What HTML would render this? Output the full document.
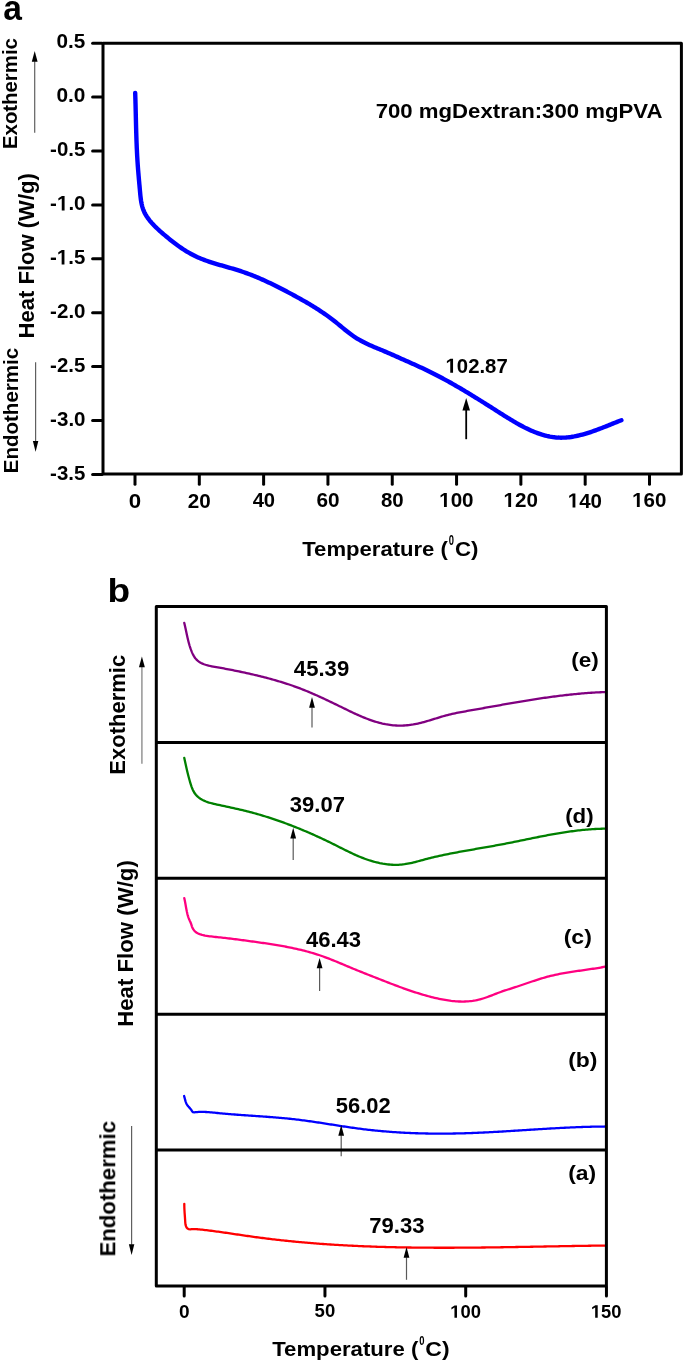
<!DOCTYPE html>
<html><head><meta charset="utf-8"><title>DSC thermograms</title>
<style>
html,body{margin:0;padding:0;background:#fff;}
body{width:685px;height:1363px;overflow:hidden;font-family:"Liberation Sans", sans-serif;}
svg{display:block;}
svg text{font-family:"Liberation Sans", sans-serif;fill:#000;}
.txt{filter:grayscale(1);}
.one{fill:transparent;}
.onep{fill:#000;}
</style></head><body>
<svg width="685" height="1363" viewBox="0 0 685 1363">
<rect width="685" height="1363" fill="#fff"/>
<line x1="92.60" y1="43.20" x2="102.00" y2="43.20" stroke="#000" stroke-width="3.00" stroke-linecap="round"/>
<line x1="92.60" y1="97.10" x2="102.00" y2="97.10" stroke="#000" stroke-width="3.00" stroke-linecap="round"/>
<line x1="92.60" y1="151.00" x2="102.00" y2="151.00" stroke="#000" stroke-width="3.00" stroke-linecap="round"/>
<line x1="92.60" y1="204.90" x2="102.00" y2="204.90" stroke="#000" stroke-width="3.00" stroke-linecap="round"/>
<line x1="92.60" y1="258.80" x2="102.00" y2="258.80" stroke="#000" stroke-width="3.00" stroke-linecap="round"/>
<line x1="92.60" y1="312.70" x2="102.00" y2="312.70" stroke="#000" stroke-width="3.00" stroke-linecap="round"/>
<line x1="92.60" y1="366.60" x2="102.00" y2="366.60" stroke="#000" stroke-width="3.00" stroke-linecap="round"/>
<line x1="92.60" y1="420.50" x2="102.00" y2="420.50" stroke="#000" stroke-width="3.00" stroke-linecap="round"/>
<line x1="92.60" y1="474.40" x2="102.00" y2="474.40" stroke="#000" stroke-width="3.00" stroke-linecap="round"/>
<line x1="135.00" y1="475.10" x2="135.00" y2="484.20" stroke="#000" stroke-width="3.00" stroke-linecap="round"/>
<line x1="199.31" y1="475.10" x2="199.31" y2="484.20" stroke="#000" stroke-width="3.00" stroke-linecap="round"/>
<line x1="263.62" y1="475.10" x2="263.62" y2="484.20" stroke="#000" stroke-width="3.00" stroke-linecap="round"/>
<line x1="327.94" y1="475.10" x2="327.94" y2="484.20" stroke="#000" stroke-width="3.00" stroke-linecap="round"/>
<line x1="392.25" y1="475.10" x2="392.25" y2="484.20" stroke="#000" stroke-width="3.00" stroke-linecap="round"/>
<line x1="456.56" y1="475.10" x2="456.56" y2="484.20" stroke="#000" stroke-width="3.00" stroke-linecap="round"/>
<line x1="520.87" y1="475.10" x2="520.87" y2="484.20" stroke="#000" stroke-width="3.00" stroke-linecap="round"/>
<line x1="585.18" y1="475.10" x2="585.18" y2="484.20" stroke="#000" stroke-width="3.00" stroke-linecap="round"/>
<line x1="649.50" y1="475.10" x2="649.50" y2="484.20" stroke="#000" stroke-width="3.00" stroke-linecap="round"/>
<rect x="103.00" y="43.20" width="578.40" height="430.90" fill="none" stroke="#000" stroke-width="3" stroke-linejoin="round"/>
<path d="M135.19,92.92 L135.25,94.57 L135.30,96.22 L135.35,97.87 L135.40,99.52 L135.45,101.18 L135.49,102.84 L135.54,104.50 L135.58,106.15 L135.62,107.82 L135.66,109.48 L135.70,111.14 L135.74,112.80 L135.78,114.47 L135.82,116.13 L135.86,117.80 L135.90,119.46 L135.94,121.13 L135.98,122.80 L136.02,124.46 L136.06,126.13 L136.10,127.80 L136.15,129.47 L136.19,131.13 L136.24,132.80 L136.29,134.47 L136.34,136.13 L136.40,137.80 L136.45,139.47 L136.51,141.13 L136.57,142.80 L136.64,144.46 L136.70,146.13 L136.77,147.79 L136.85,149.45 L136.93,151.11 L137.01,152.77 L137.09,154.43 L137.18,156.09 L137.28,157.74 L137.38,159.40 L137.48,161.05 L137.59,162.70 L137.70,164.36 L137.82,166.00 L137.94,167.65 L138.07,169.30 L138.20,170.95 L138.34,172.59 L138.48,174.24 L138.62,175.89 L138.76,177.54 L138.91,179.19 L139.06,180.84 L139.20,182.50 L139.35,184.16 L139.51,185.82 L139.66,187.48 L139.81,189.15 L139.96,190.83 L140.11,192.51 L140.26,194.19 L140.43,195.87 L140.62,197.55 L140.83,199.22 L141.07,200.88 L141.35,202.52 L141.68,204.15 L142.06,205.76 L142.50,207.35 L143.00,208.91 L143.57,210.44 L144.22,211.93 L144.95,213.40 L145.74,214.83 L146.60,216.24 L147.51,217.61 L148.48,218.96 L149.49,220.27 L150.54,221.56 L151.63,222.82 L152.75,224.06 L153.89,225.27 L155.05,226.46 L156.24,227.63 L157.45,228.78 L158.68,229.92 L159.92,231.04 L161.17,232.14 L162.43,233.24 L163.71,234.33 L164.98,235.42 L166.27,236.49 L167.56,237.56 L168.85,238.63 L170.15,239.68 L171.46,240.72 L172.78,241.76 L174.10,242.78 L175.43,243.78 L176.77,244.78 L178.11,245.76 L179.47,246.72 L180.83,247.67 L182.21,248.60 L183.59,249.51 L184.99,250.40 L186.39,251.28 L187.81,252.13 L189.23,252.96 L190.67,253.76 L192.12,254.54 L193.59,255.30 L195.06,256.03 L196.55,256.73 L198.05,257.41 L199.57,258.06 L201.09,258.70 L202.63,259.31 L204.17,259.90 L205.72,260.47 L207.29,261.02 L208.86,261.56 L210.43,262.09 L212.02,262.60 L213.60,263.10 L215.20,263.59 L216.80,264.07 L218.40,264.55 L220.01,265.02 L221.61,265.48 L223.22,265.94 L224.83,266.40 L226.44,266.86 L228.06,267.32 L229.67,267.78 L231.27,268.24 L232.88,268.71 L234.48,269.19 L236.08,269.68 L237.68,270.17 L239.27,270.68 L240.85,271.19 L242.43,271.72 L244.01,272.26 L245.58,272.82 L247.14,273.38 L248.70,273.96 L250.25,274.55 L251.80,275.15 L253.34,275.76 L254.88,276.38 L256.41,277.01 L257.94,277.65 L259.46,278.30 L260.98,278.95 L262.50,279.62 L264.01,280.30 L265.52,280.98 L267.02,281.68 L268.53,282.38 L270.02,283.08 L271.52,283.80 L273.01,284.52 L274.50,285.25 L275.98,285.99 L277.47,286.73 L278.95,287.48 L280.43,288.23 L281.90,288.99 L283.37,289.75 L284.85,290.52 L286.32,291.29 L287.78,292.07 L289.25,292.85 L290.71,293.63 L292.18,294.42 L293.64,295.21 L295.10,296.01 L296.56,296.81 L298.01,297.61 L299.47,298.42 L300.92,299.23 L302.37,300.05 L303.81,300.87 L305.25,301.70 L306.69,302.53 L308.13,303.38 L309.56,304.22 L310.98,305.08 L312.41,305.94 L313.82,306.81 L315.23,307.69 L316.64,308.58 L318.04,309.47 L319.43,310.38 L320.82,311.29 L322.21,312.21 L323.58,313.15 L324.95,314.09 L326.31,315.04 L327.67,316.01 L329.01,316.98 L330.35,317.97 L331.68,318.97 L333.01,319.98 L334.32,321.00 L335.63,322.04 L336.92,323.09 L338.22,324.14 L339.50,325.20 L340.79,326.27 L342.07,327.33 L343.36,328.40 L344.65,329.45 L345.94,330.50 L347.24,331.54 L348.54,332.57 L349.86,333.58 L351.19,334.57 L352.54,335.54 L353.89,336.48 L355.27,337.40 L356.67,338.28 L358.08,339.14 L359.51,339.97 L360.96,340.78 L362.42,341.56 L363.90,342.31 L365.39,343.05 L366.89,343.77 L368.39,344.47 L369.91,345.16 L371.43,345.84 L372.96,346.50 L374.49,347.15 L376.02,347.80 L377.56,348.44 L379.09,349.08 L380.63,349.71 L382.16,350.34 L383.68,350.98 L385.20,351.62 L386.72,352.26 L388.22,352.91 L389.73,353.56 L391.23,354.22 L392.73,354.88 L394.22,355.54 L395.72,356.20 L397.22,356.87 L398.72,357.54 L400.23,358.22 L401.73,358.89 L403.25,359.57 L404.77,360.24 L406.30,360.92 L407.83,361.60 L409.36,362.28 L410.90,362.97 L412.43,363.66 L413.97,364.35 L415.51,365.04 L417.05,365.74 L418.58,366.44 L420.11,367.14 L421.64,367.85 L423.17,368.57 L424.69,369.29 L426.20,370.01 L427.71,370.74 L429.21,371.47 L430.70,372.21 L432.19,372.95 L433.68,373.70 L435.15,374.45 L436.63,375.21 L438.09,375.97 L439.56,376.74 L441.02,377.51 L442.47,378.29 L443.92,379.07 L445.37,379.85 L446.81,380.64 L448.24,381.44 L449.68,382.24 L451.11,383.04 L452.54,383.84 L453.96,384.65 L455.38,385.47 L456.80,386.29 L458.22,387.11 L459.64,387.94 L461.05,388.76 L462.46,389.60 L463.87,390.44 L465.28,391.28 L466.68,392.12 L468.09,392.97 L469.49,393.82 L470.89,394.67 L472.30,395.53 L473.70,396.39 L475.10,397.26 L476.50,398.13 L477.91,399.00 L479.31,399.87 L480.71,400.75 L482.12,401.63 L483.52,402.51 L484.93,403.39 L486.34,404.28 L487.74,405.17 L489.15,406.07 L490.57,406.96 L491.98,407.86 L493.40,408.76 L494.82,409.67 L496.24,410.57 L497.66,411.48 L499.09,412.39 L500.52,413.30 L501.95,414.21 L503.39,415.12 L504.83,416.03 L506.27,416.93 L507.72,417.83 L509.17,418.72 L510.62,419.61 L512.08,420.49 L513.54,421.35 L515.00,422.21 L516.47,423.06 L517.94,423.89 L519.42,424.71 L520.90,425.52 L522.38,426.31 L523.87,427.08 L525.37,427.84 L526.86,428.57 L528.37,429.29 L529.87,429.98 L531.39,430.66 L532.90,431.31 L534.42,431.93 L535.95,432.53 L537.48,433.10 L539.02,433.64 L540.56,434.15 L542.10,434.64 L543.66,435.09 L545.21,435.51 L546.78,435.90 L548.35,436.25 L549.92,436.57 L551.50,436.84 L553.09,437.09 L554.68,437.29 L556.28,437.45 L557.88,437.57 L559.49,437.65 L561.11,437.68 L562.73,437.67 L564.36,437.62 L565.99,437.52 L567.63,437.38 L569.27,437.20 L570.92,436.99 L572.57,436.73 L574.22,436.45 L575.87,436.13 L577.53,435.77 L579.18,435.39 L580.83,434.98 L582.48,434.55 L584.13,434.09 L585.78,433.61 L587.43,433.11 L589.07,432.59 L590.70,432.05 L592.33,431.49 L593.96,430.92 L595.57,430.34 L597.18,429.75 L598.79,429.15 L600.38,428.54 L601.97,427.93 L603.54,427.31 L605.10,426.69 L606.66,426.08 L608.20,425.46 L609.73,424.84 L611.24,424.23 L612.74,423.63 L614.23,423.04 L615.70,422.45 L617.15,421.88 L618.59,421.32 L620.01,420.77 L621.41,420.24" fill="none" stroke="#0000ff" stroke-width="4.4" stroke-linecap="round" stroke-linejoin="round"/>
<line x1="466.20" y1="410.00" x2="466.20" y2="439.20" stroke="#000" stroke-width="1.80" stroke-linecap="butt"/>
<path d="M466.20,398.00 L462.40,410.50 L470.00,410.50 Z" fill="#000"/>
<line x1="34.70" y1="61.30" x2="34.70" y2="132.80" stroke="#606060" stroke-width="1.20" stroke-linecap="butt"/>
<path d="M34.70,51.00 L31.80,61.80 L37.60,61.80 Z" fill="#000"/>
<line x1="35.60" y1="362.30" x2="35.60" y2="441.50" stroke="#606060" stroke-width="1.20" stroke-linecap="butt"/>
<path d="M35.60,451.80 L32.90,441.00 L38.30,441.00 Z" fill="#000"/>
<path d="M184.28,622.91 L184.64,624.42 L184.99,625.93 L185.32,627.44 L185.65,628.95 L185.97,630.46 L186.29,631.97 L186.61,633.49 L186.93,635.00 L187.26,636.51 L187.60,638.01 L187.95,639.52 L188.31,641.02 L188.70,642.52 L189.11,644.02 L189.54,645.51 L190.01,646.99 L190.50,648.47 L191.03,649.95 L191.60,651.42 L192.21,652.87 L192.88,654.29 L193.61,655.66 L194.41,656.97 L195.29,658.22 L196.26,659.37 L197.33,660.43 L198.50,661.38 L199.76,662.22 L201.10,662.97 L202.50,663.64 L203.97,664.23 L205.47,664.74 L207.00,665.20 L208.54,665.61 L210.09,665.97 L211.64,666.29 L213.19,666.59 L214.73,666.87 L216.27,667.14 L217.81,667.40 L219.34,667.67 L220.87,667.94 L222.39,668.21 L223.91,668.49 L225.42,668.77 L226.93,669.05 L228.44,669.34 L229.95,669.63 L231.45,669.92 L232.95,670.22 L234.45,670.52 L235.95,670.82 L237.44,671.13 L238.94,671.44 L240.44,671.75 L241.93,672.07 L243.43,672.39 L244.93,672.72 L246.43,673.05 L247.93,673.38 L249.43,673.71 L250.94,674.06 L252.44,674.40 L253.94,674.75 L255.45,675.10 L256.95,675.46 L258.46,675.83 L259.96,676.19 L261.47,676.57 L262.97,676.95 L264.48,677.33 L265.98,677.72 L267.49,678.11 L268.99,678.51 L270.49,678.92 L271.99,679.33 L273.49,679.75 L274.98,680.17 L276.48,680.60 L277.97,681.04 L279.46,681.48 L280.95,681.93 L282.43,682.39 L283.92,682.85 L285.40,683.32 L286.88,683.80 L288.35,684.28 L289.83,684.78 L291.30,685.28 L292.76,685.78 L294.22,686.30 L295.68,686.82 L297.14,687.35 L298.59,687.89 L300.03,688.44 L301.47,689.00 L302.91,689.56 L304.35,690.13 L305.78,690.71 L307.21,691.30 L308.63,691.89 L310.05,692.49 L311.47,693.09 L312.89,693.71 L314.30,694.32 L315.71,694.95 L317.12,695.57 L318.52,696.21 L319.93,696.85 L321.33,697.49 L322.73,698.14 L324.13,698.79 L325.53,699.44 L326.93,700.10 L328.32,700.77 L329.72,701.43 L331.11,702.10 L332.51,702.77 L333.90,703.45 L335.30,704.12 L336.69,704.80 L338.09,705.48 L339.48,706.16 L340.88,706.84 L342.27,707.52 L343.67,708.20 L345.07,708.89 L346.47,709.57 L347.87,710.25 L349.27,710.93 L350.68,711.60 L352.09,712.27 L353.49,712.93 L354.91,713.58 L356.32,714.23 L357.74,714.87 L359.16,715.50 L360.58,716.12 L362.01,716.73 L363.44,717.33 L364.87,717.91 L366.31,718.48 L367.75,719.03 L369.19,719.57 L370.64,720.09 L372.10,720.59 L373.56,721.08 L375.02,721.54 L376.49,721.99 L377.97,722.41 L379.45,722.81 L380.93,723.19 L382.43,723.55 L383.92,723.87 L385.43,724.18 L386.94,724.45 L388.46,724.70 L389.98,724.92 L391.52,725.11 L393.05,725.27 L394.60,725.40 L396.15,725.49 L397.72,725.55 L399.28,725.58 L400.85,725.58 L402.42,725.55 L403.99,725.48 L405.56,725.39 L407.13,725.26 L408.69,725.11 L410.25,724.92 L411.80,724.70 L413.34,724.46 L414.88,724.18 L416.40,723.88 L417.92,723.56 L419.43,723.21 L420.93,722.84 L422.43,722.46 L423.92,722.05 L425.41,721.64 L426.89,721.21 L428.37,720.77 L429.84,720.32 L431.32,719.87 L432.79,719.41 L434.26,718.95 L435.73,718.49 L437.20,718.03 L438.68,717.57 L440.15,717.12 L441.62,716.68 L443.10,716.24 L444.58,715.82 L446.07,715.42 L447.56,715.03 L449.06,714.65 L450.56,714.29 L452.06,713.94 L453.57,713.61 L455.08,713.29 L456.59,712.98 L458.11,712.67 L459.63,712.38 L461.15,712.09 L462.67,711.81 L464.19,711.53 L465.72,711.26 L467.25,710.99 L468.77,710.72 L470.30,710.45 L471.83,710.18 L473.35,709.91 L474.88,709.64 L476.40,709.37 L477.93,709.10 L479.46,708.82 L480.98,708.55 L482.51,708.28 L484.03,708.00 L485.56,707.73 L487.09,707.46 L488.61,707.18 L490.14,706.91 L491.66,706.64 L493.19,706.37 L494.71,706.09 L496.24,705.82 L497.77,705.55 L499.29,705.28 L500.82,705.01 L502.34,704.74 L503.87,704.47 L505.40,704.20 L506.92,703.93 L508.45,703.67 L509.97,703.40 L511.50,703.14 L513.03,702.88 L514.55,702.62 L516.08,702.35 L517.61,702.10 L519.13,701.84 L520.66,701.58 L522.19,701.33 L523.72,701.08 L525.24,700.83 L526.77,700.58 L528.30,700.33 L529.83,700.09 L531.36,699.84 L532.89,699.60 L534.41,699.36 L535.94,699.13 L537.47,698.89 L539.00,698.66 L540.53,698.43 L542.06,698.21 L543.60,697.98 L545.13,697.76 L546.66,697.54 L548.19,697.33 L549.72,697.12 L551.26,696.91 L552.79,696.70 L554.32,696.50 L555.86,696.30 L557.39,696.10 L558.93,695.91 L560.46,695.72 L562.00,695.53 L563.53,695.35 L565.07,695.17 L566.61,695.00 L568.14,694.82 L569.68,694.66 L571.22,694.49 L572.76,694.33 L574.30,694.18 L575.84,694.03 L577.38,693.88 L578.92,693.74 L580.46,693.60 L582.00,693.46 L583.55,693.33 L585.09,693.21 L586.63,693.09 L588.18,692.97 L589.72,692.86 L591.27,692.76 L592.82,692.65 L594.36,692.56 L595.91,692.47 L597.46,692.38 L599.01,692.30 L600.56,692.23 L602.11,692.16 L603.66,692.09 L605.21,692.03" fill="none" stroke="#800080" stroke-width="2.3" stroke-linecap="round" stroke-linejoin="round"/>
<path d="M184.29,757.90 L184.61,759.43 L184.94,760.95 L185.26,762.48 L185.59,764.00 L185.92,765.51 L186.25,767.03 L186.59,768.54 L186.93,770.05 L187.28,771.55 L187.64,773.06 L188.02,774.56 L188.40,776.07 L188.80,777.57 L189.21,779.07 L189.63,780.56 L190.08,782.06 L190.54,783.56 L191.02,785.05 L191.52,786.55 L192.07,788.02 L192.66,789.48 L193.33,790.89 L194.08,792.25 L194.92,793.54 L195.86,794.76 L196.89,795.89 L197.99,796.94 L199.18,797.89 L200.43,798.76 L201.75,799.55 L203.12,800.27 L204.54,800.92 L206.01,801.51 L207.51,802.05 L209.04,802.54 L210.60,802.99 L212.18,803.41 L213.76,803.80 L215.35,804.17 L216.94,804.52 L218.53,804.87 L220.10,805.21 L221.66,805.55 L223.21,805.89 L224.75,806.22 L226.28,806.55 L227.81,806.88 L229.32,807.21 L230.83,807.54 L232.34,807.87 L233.83,808.20 L235.32,808.53 L236.81,808.87 L238.29,809.20 L239.77,809.54 L241.25,809.89 L242.72,810.24 L244.20,810.59 L245.67,810.95 L247.14,811.32 L248.61,811.69 L250.08,812.07 L251.55,812.46 L253.02,812.86 L254.49,813.26 L255.96,813.67 L257.44,814.09 L258.91,814.51 L260.38,814.94 L261.85,815.38 L263.32,815.82 L264.79,816.27 L266.26,816.73 L267.73,817.19 L269.20,817.66 L270.67,818.14 L272.14,818.62 L273.61,819.11 L275.07,819.60 L276.54,820.10 L278.01,820.61 L279.47,821.12 L280.93,821.64 L282.40,822.17 L283.86,822.70 L285.32,823.23 L286.78,823.77 L288.24,824.32 L289.70,824.87 L291.15,825.43 L292.61,826.00 L294.06,826.56 L295.51,827.14 L296.96,827.72 L298.41,828.30 L299.86,828.89 L301.30,829.49 L302.74,830.09 L304.19,830.69 L305.63,831.30 L307.06,831.91 L308.50,832.53 L309.93,833.16 L311.36,833.78 L312.79,834.42 L314.22,835.05 L315.64,835.69 L317.07,836.34 L318.49,836.99 L319.90,837.64 L321.32,838.30 L322.73,838.96 L324.14,839.63 L325.55,840.30 L326.95,840.97 L328.36,841.65 L329.75,842.33 L331.15,843.01 L332.54,843.70 L333.93,844.40 L335.32,845.09 L336.71,845.79 L338.09,846.48 L339.47,847.18 L340.85,847.88 L342.24,848.57 L343.62,849.26 L345.00,849.95 L346.39,850.63 L347.77,851.31 L349.16,851.98 L350.55,852.65 L351.94,853.30 L353.34,853.95 L354.74,854.59 L356.15,855.22 L357.56,855.83 L358.98,856.44 L360.40,857.03 L361.83,857.60 L363.26,858.16 L364.71,858.71 L366.16,859.24 L367.62,859.75 L369.09,860.24 L370.56,860.71 L372.05,861.16 L373.55,861.59 L375.06,862.00 L376.58,862.38 L378.10,862.74 L379.64,863.08 L381.19,863.38 L382.74,863.67 L384.30,863.92 L385.86,864.14 L387.43,864.34 L388.99,864.50 L390.56,864.63 L392.13,864.73 L393.70,864.80 L395.27,864.83 L396.83,864.82 L398.39,864.78 L399.94,864.69 L401.49,864.57 L403.03,864.41 L404.56,864.22 L406.09,863.98 L407.61,863.72 L409.12,863.43 L410.63,863.11 L412.13,862.77 L413.64,862.41 L415.14,862.04 L416.63,861.65 L418.13,861.26 L419.62,860.85 L421.12,860.45 L422.61,860.04 L424.11,859.63 L425.61,859.23 L427.10,858.84 L428.61,858.46 L430.11,858.08 L431.61,857.71 L433.12,857.35 L434.63,856.99 L436.14,856.64 L437.65,856.29 L439.16,855.95 L440.68,855.62 L442.19,855.29 L443.71,854.97 L445.23,854.65 L446.75,854.34 L448.27,854.03 L449.79,853.73 L451.31,853.42 L452.84,853.13 L454.36,852.84 L455.89,852.55 L457.41,852.26 L458.94,851.98 L460.47,851.70 L462.00,851.42 L463.53,851.14 L465.06,850.87 L466.59,850.60 L468.12,850.33 L469.65,850.06 L471.19,849.79 L472.72,849.52 L474.25,849.26 L475.78,848.99 L477.32,848.73 L478.85,848.46 L480.38,848.20 L481.92,847.93 L483.45,847.67 L484.98,847.40 L486.52,847.13 L488.05,846.86 L489.58,846.59 L491.11,846.32 L492.65,846.05 L494.18,845.77 L495.71,845.49 L497.24,845.21 L498.77,844.93 L500.30,844.64 L501.83,844.35 L503.35,844.06 L504.88,843.76 L506.41,843.47 L507.93,843.17 L509.46,842.87 L510.98,842.56 L512.51,842.26 L514.03,841.95 L515.56,841.64 L517.08,841.33 L518.60,841.02 L520.13,840.71 L521.65,840.40 L523.17,840.09 L524.69,839.78 L526.22,839.46 L527.74,839.15 L529.26,838.84 L530.78,838.53 L532.31,838.22 L533.83,837.92 L535.35,837.61 L536.87,837.31 L538.40,837.00 L539.92,836.70 L541.45,836.41 L542.97,836.11 L544.49,835.82 L546.02,835.53 L547.54,835.24 L549.07,834.96 L550.60,834.68 L552.12,834.40 L553.65,834.13 L555.18,833.86 L556.71,833.60 L558.24,833.34 L559.77,833.08 L561.30,832.83 L562.83,832.59 L564.36,832.35 L565.89,832.11 L567.43,831.89 L568.96,831.66 L570.50,831.45 L572.04,831.24 L573.58,831.04 L575.12,830.84 L576.66,830.65 L578.20,830.47 L579.74,830.30 L581.29,830.13 L582.83,829.97 L584.38,829.82 L585.93,829.68 L587.48,829.54 L589.03,829.42 L590.58,829.30 L592.14,829.19 L593.69,829.10 L595.25,829.01 L596.81,828.93 L598.37,828.86 L599.94,828.80 L601.50,828.75 L603.07,828.71 L604.64,828.69" fill="none" stroke="#008000" stroke-width="2.3" stroke-linecap="round" stroke-linejoin="round"/>
<path d="M184.30,898.20 L184.63,899.67 L184.94,901.17 L185.22,902.68 L185.49,904.20 L185.75,905.73 L186.01,907.26 L186.29,908.80 L186.58,910.33 L186.89,911.85 L187.24,913.36 L187.63,914.86 L188.06,916.34 L188.56,917.80 L189.11,919.23 L189.73,920.64 L190.38,922.03 L190.97,923.44 L191.45,924.90 L191.89,926.37 L192.43,927.81 L193.17,929.18 L194.09,930.45 L195.17,931.57 L196.37,932.51 L197.67,933.30 L199.06,933.94 L200.52,934.47 L202.02,934.90 L203.55,935.25 L205.10,935.56 L206.64,935.83 L208.18,936.07 L209.71,936.28 L211.24,936.48 L212.77,936.66 L214.30,936.83 L215.82,936.99 L217.35,937.14 L218.87,937.30 L220.39,937.45 L221.92,937.61 L223.44,937.78 L224.96,937.95 L226.49,938.13 L228.01,938.31 L229.53,938.49 L231.06,938.67 L232.58,938.86 L234.11,939.06 L235.63,939.25 L237.16,939.45 L238.69,939.65 L240.21,939.85 L241.74,940.05 L243.27,940.25 L244.80,940.46 L246.33,940.67 L247.86,940.87 L249.39,941.08 L250.92,941.29 L252.45,941.50 L253.98,941.71 L255.51,941.92 L257.05,942.13 L258.58,942.34 L260.11,942.56 L261.65,942.78 L263.18,943.00 L264.71,943.22 L266.24,943.45 L267.77,943.67 L269.30,943.91 L270.83,944.14 L272.36,944.38 L273.89,944.62 L275.42,944.87 L276.95,945.12 L278.47,945.38 L280.00,945.64 L281.52,945.91 L283.04,946.18 L284.56,946.46 L286.08,946.75 L287.60,947.04 L289.11,947.34 L290.63,947.64 L292.14,947.95 L293.65,948.27 L295.15,948.60 L296.66,948.93 L298.16,949.27 L299.66,949.62 L301.16,949.98 L302.66,950.35 L304.15,950.72 L305.64,951.11 L307.12,951.50 L308.61,951.91 L310.09,952.32 L311.57,952.74 L313.04,953.18 L314.51,953.62 L315.98,954.08 L317.44,954.55 L318.90,955.02 L320.36,955.51 L321.81,956.02 L323.26,956.53 L324.71,957.05 L326.15,957.59 L327.59,958.13 L329.03,958.68 L330.46,959.24 L331.89,959.81 L333.32,960.38 L334.75,960.96 L336.18,961.55 L337.60,962.14 L339.03,962.73 L340.45,963.33 L341.87,963.93 L343.29,964.53 L344.71,965.13 L346.14,965.73 L347.56,966.33 L348.98,966.93 L350.40,967.52 L351.83,968.12 L353.25,968.71 L354.68,969.29 L356.11,969.88 L357.54,970.46 L358.97,971.03 L360.40,971.61 L361.83,972.18 L363.26,972.75 L364.70,973.32 L366.13,973.89 L367.56,974.45 L369.00,975.02 L370.43,975.58 L371.87,976.15 L373.30,976.71 L374.73,977.28 L376.17,977.84 L377.60,978.41 L379.03,978.97 L380.46,979.54 L381.90,980.10 L383.33,980.66 L384.77,981.22 L386.20,981.78 L387.63,982.34 L389.07,982.90 L390.51,983.45 L391.94,984.00 L393.38,984.55 L394.82,985.10 L396.26,985.64 L397.70,986.18 L399.15,986.72 L400.59,987.25 L402.04,987.78 L403.48,988.30 L404.93,988.82 L406.39,989.33 L407.84,989.84 L409.30,990.34 L410.75,990.84 L412.22,991.33 L413.68,991.81 L415.14,992.29 L416.61,992.76 L418.08,993.22 L419.56,993.68 L421.04,994.13 L422.52,994.57 L424.00,995.00 L425.49,995.42 L426.98,995.84 L428.47,996.25 L429.97,996.65 L431.47,997.03 L432.97,997.41 L434.48,997.78 L435.99,998.14 L437.51,998.48 L439.02,998.81 L440.54,999.13 L442.07,999.43 L443.59,999.71 L445.12,999.98 L446.64,1000.23 L448.17,1000.46 L449.70,1000.67 L451.23,1000.87 L452.76,1001.03 L454.29,1001.18 L455.82,1001.30 L457.35,1001.40 L458.88,1001.48 L460.41,1001.52 L461.94,1001.54 L463.47,1001.54 L464.99,1001.50 L466.52,1001.43 L468.04,1001.33 L469.56,1001.21 L471.07,1001.04 L472.59,1000.85 L474.10,1000.62 L475.60,1000.36 L477.11,1000.05 L478.61,999.72 L480.10,999.34 L481.59,998.93 L483.08,998.48 L484.56,998.00 L486.04,997.50 L487.52,996.97 L488.99,996.43 L490.46,995.87 L491.93,995.31 L493.39,994.74 L494.86,994.17 L496.32,993.60 L497.78,993.04 L499.23,992.49 L500.69,991.96 L502.14,991.44 L503.59,990.94 L505.05,990.45 L506.50,989.97 L507.95,989.50 L509.40,989.04 L510.85,988.58 L512.30,988.12 L513.75,987.66 L515.20,987.19 L516.65,986.72 L518.11,986.24 L519.56,985.76 L521.01,985.26 L522.47,984.77 L523.93,984.27 L525.38,983.77 L526.84,983.27 L528.30,982.77 L529.77,982.27 L531.23,981.77 L532.70,981.28 L534.17,980.79 L535.64,980.30 L537.11,979.82 L538.58,979.35 L540.06,978.89 L541.54,978.43 L543.02,977.99 L544.51,977.56 L546.00,977.14 L547.49,976.73 L548.98,976.34 L550.48,975.97 L551.98,975.60 L553.48,975.26 L554.98,974.92 L556.49,974.60 L558.00,974.28 L559.51,973.98 L561.02,973.69 L562.54,973.41 L564.05,973.14 L565.57,972.87 L567.09,972.62 L568.61,972.37 L570.14,972.12 L571.66,971.88 L573.19,971.65 L574.71,971.42 L576.24,971.19 L577.76,970.97 L579.29,970.75 L580.82,970.53 L582.35,970.31 L583.88,970.09 L585.40,969.88 L586.93,969.66 L588.46,969.43 L589.98,969.21 L591.51,968.98 L593.04,968.75 L594.56,968.52 L596.08,968.27 L597.61,968.03 L599.13,967.78 L600.65,967.51 L602.16,967.25 L603.68,966.97 L605.20,966.68" fill="none" stroke="#ff0080" stroke-width="2.3" stroke-linecap="round" stroke-linejoin="round"/>
<path d="M184.10,1096.00 L184.48,1097.36 L184.84,1098.76 L185.21,1100.19 L185.63,1101.60 L186.14,1102.97 L186.75,1104.27 L187.52,1105.47 L188.42,1106.57 L189.40,1107.63 L190.37,1108.72 L191.27,1109.89 L192.04,1111.18 L192.94,1112.12 L194.23,1112.32 L195.72,1112.18 L197.21,1112.05 L198.69,1111.96 L200.17,1111.91 L201.63,1111.89 L203.09,1111.90 L204.54,1111.94 L205.98,1112.00 L207.42,1112.09 L208.86,1112.19 L210.29,1112.31 L211.72,1112.44 L213.15,1112.58 L214.57,1112.72 L216.00,1112.87 L217.42,1113.01 L218.85,1113.16 L220.28,1113.29 L221.71,1113.43 L223.14,1113.56 L224.57,1113.69 L226.01,1113.82 L227.44,1113.94 L228.88,1114.06 L230.32,1114.18 L231.75,1114.30 L233.19,1114.41 L234.63,1114.52 L236.07,1114.63 L237.51,1114.74 L238.96,1114.85 L240.40,1114.95 L241.84,1115.05 L243.29,1115.16 L244.73,1115.26 L246.18,1115.36 L247.62,1115.46 L249.07,1115.56 L250.51,1115.66 L251.96,1115.76 L253.41,1115.86 L254.86,1115.96 L256.31,1116.06 L257.75,1116.15 L259.20,1116.26 L260.65,1116.36 L262.10,1116.46 L263.55,1116.56 L265.00,1116.67 L266.45,1116.77 L267.90,1116.88 L269.35,1116.99 L270.80,1117.10 L272.24,1117.21 L273.69,1117.32 L275.14,1117.44 L276.59,1117.56 L278.04,1117.68 L279.48,1117.80 L280.93,1117.93 L282.38,1118.06 L283.82,1118.19 L285.27,1118.33 L286.72,1118.47 L288.16,1118.61 L289.60,1118.76 L291.05,1118.91 L292.49,1119.07 L293.93,1119.23 L295.37,1119.39 L296.81,1119.56 L298.25,1119.73 L299.69,1119.91 L301.13,1120.09 L302.57,1120.27 L304.00,1120.46 L305.44,1120.65 L306.88,1120.85 L308.31,1121.05 L309.74,1121.25 L311.18,1121.45 L312.61,1121.66 L314.04,1121.87 L315.48,1122.08 L316.91,1122.29 L318.34,1122.51 L319.77,1122.73 L321.20,1122.95 L322.63,1123.17 L324.06,1123.39 L325.49,1123.61 L326.92,1123.83 L328.35,1124.05 L329.78,1124.28 L331.21,1124.50 L332.63,1124.72 L334.06,1124.95 L335.49,1125.17 L336.92,1125.39 L338.35,1125.62 L339.78,1125.84 L341.21,1126.06 L342.63,1126.27 L344.06,1126.49 L345.49,1126.71 L346.92,1126.92 L348.35,1127.13 L349.78,1127.34 L351.21,1127.55 L352.64,1127.75 L354.07,1127.95 L355.50,1128.15 L356.93,1128.35 L358.37,1128.54 L359.80,1128.73 L361.23,1128.91 L362.66,1129.09 L364.10,1129.27 L365.53,1129.44 L366.96,1129.61 L368.40,1129.78 L369.83,1129.94 L371.27,1130.10 L372.71,1130.25 L374.14,1130.40 L375.58,1130.55 L377.02,1130.69 L378.46,1130.83 L379.89,1130.97 L381.33,1131.10 L382.77,1131.23 L384.21,1131.35 L385.65,1131.47 L387.09,1131.59 L388.53,1131.70 L389.97,1131.81 L391.41,1131.92 L392.85,1132.03 L394.30,1132.13 L395.74,1132.22 L397.18,1132.32 L398.62,1132.41 L400.07,1132.49 L401.51,1132.57 L402.95,1132.65 L404.40,1132.73 L405.84,1132.80 L407.28,1132.87 L408.73,1132.94 L410.17,1133.00 L411.62,1133.06 L413.06,1133.12 L414.51,1133.18 L415.95,1133.23 L417.40,1133.27 L418.84,1133.32 L420.29,1133.36 L421.74,1133.40 L423.18,1133.43 L424.63,1133.47 L426.07,1133.50 L427.52,1133.52 L428.97,1133.55 L430.41,1133.57 L431.86,1133.58 L433.31,1133.60 L434.75,1133.61 L436.20,1133.62 L437.65,1133.63 L439.09,1133.63 L440.54,1133.63 L441.99,1133.63 L443.43,1133.62 L444.88,1133.62 L446.33,1133.61 L447.78,1133.59 L449.22,1133.58 L450.67,1133.56 L452.12,1133.54 L453.56,1133.52 L455.01,1133.49 L456.46,1133.46 L457.90,1133.43 L459.35,1133.40 L460.80,1133.36 L462.24,1133.32 L463.69,1133.28 L465.13,1133.24 L466.58,1133.19 L468.03,1133.15 L469.47,1133.10 L470.92,1133.04 L472.36,1132.99 L473.81,1132.93 L475.26,1132.88 L476.70,1132.82 L478.15,1132.75 L479.59,1132.69 L481.04,1132.63 L482.48,1132.56 L483.93,1132.49 L485.37,1132.42 L486.82,1132.35 L488.26,1132.28 L489.71,1132.20 L491.15,1132.13 L492.60,1132.05 L494.04,1131.97 L495.49,1131.89 L496.93,1131.81 L498.38,1131.73 L499.82,1131.64 L501.26,1131.56 L502.71,1131.48 L504.15,1131.39 L505.60,1131.30 L507.04,1131.22 L508.49,1131.13 L509.93,1131.04 L511.38,1130.95 L512.82,1130.86 L514.26,1130.77 L515.71,1130.68 L517.15,1130.59 L518.60,1130.50 L520.04,1130.41 L521.48,1130.32 L522.93,1130.22 L524.37,1130.13 L525.82,1130.04 L527.26,1129.95 L528.71,1129.86 L530.15,1129.77 L531.59,1129.67 L533.04,1129.58 L534.48,1129.49 L535.93,1129.40 L537.37,1129.31 L538.82,1129.22 L540.26,1129.13 L541.70,1129.04 L543.15,1128.95 L544.59,1128.87 L546.04,1128.78 L547.48,1128.69 L548.93,1128.61 L550.37,1128.52 L551.82,1128.44 L553.26,1128.36 L554.71,1128.28 L556.15,1128.20 L557.59,1128.12 L559.04,1128.04 L560.48,1127.96 L561.93,1127.89 L563.37,1127.81 L564.82,1127.74 L566.26,1127.67 L567.71,1127.60 L569.16,1127.53 L570.60,1127.47 L572.05,1127.40 L573.49,1127.34 L574.94,1127.28 L576.38,1127.22 L577.83,1127.16 L579.27,1127.11 L580.72,1127.06 L582.17,1127.00 L583.61,1126.96 L585.06,1126.91 L586.50,1126.86 L587.95,1126.82 L589.40,1126.78 L590.84,1126.75 L592.29,1126.71 L593.74,1126.68 L595.18,1126.65 L596.63,1126.62 L598.08,1126.60 L599.52,1126.57 L600.97,1126.56 L602.42,1126.54 L603.87,1126.53 L605.31,1126.52" fill="none" stroke="#0000ff" stroke-width="2.3" stroke-linecap="round" stroke-linejoin="round"/>
<path d="M184.30,1203.80 L184.30,1205.31 L184.33,1206.81 L184.37,1208.29 L184.44,1209.77 L184.52,1211.24 L184.61,1212.71 L184.71,1214.17 L184.82,1215.64 L184.93,1217.12 L185.03,1218.60 L185.13,1220.09 L185.21,1221.59 L185.32,1223.10 L185.52,1224.59 L185.90,1226.05 L186.56,1227.45 L187.52,1228.59 L188.76,1229.21 L190.21,1229.31 L191.77,1229.18 L193.31,1229.09 L194.82,1229.09 L196.30,1229.16 L197.77,1229.27 L199.23,1229.42 L200.69,1229.56 L202.16,1229.72 L203.62,1229.88 L205.08,1230.04 L206.55,1230.21 L208.01,1230.39 L209.48,1230.57 L210.94,1230.75 L212.41,1230.94 L213.88,1231.13 L215.34,1231.32 L216.81,1231.52 L218.28,1231.72 L219.75,1231.92 L221.22,1232.13 L222.69,1232.33 L224.16,1232.54 L225.63,1232.75 L227.10,1232.97 L228.57,1233.18 L230.04,1233.40 L231.51,1233.62 L232.99,1233.83 L234.46,1234.05 L235.93,1234.27 L237.40,1234.49 L238.88,1234.71 L240.35,1234.93 L241.83,1235.14 L243.30,1235.36 L244.77,1235.58 L246.25,1235.79 L247.72,1236.00 L249.20,1236.21 L250.67,1236.42 L252.15,1236.63 L253.62,1236.83 L255.10,1237.04 L256.57,1237.24 L258.05,1237.43 L259.53,1237.63 L261.00,1237.82 L262.48,1238.01 L263.95,1238.20 L265.43,1238.39 L266.91,1238.57 L268.38,1238.75 L269.86,1238.93 L271.34,1239.11 L272.81,1239.28 L274.29,1239.46 L275.77,1239.63 L277.25,1239.79 L278.72,1239.96 L280.20,1240.12 L281.68,1240.29 L283.16,1240.44 L284.64,1240.60 L286.11,1240.76 L287.59,1240.91 L289.07,1241.06 L290.55,1241.21 L292.03,1241.36 L293.51,1241.50 L294.99,1241.65 L296.46,1241.79 L297.94,1241.93 L299.42,1242.06 L300.90,1242.20 L302.38,1242.33 L303.86,1242.46 L305.34,1242.59 L306.82,1242.72 L308.30,1242.84 L309.78,1242.97 L311.26,1243.09 L312.74,1243.21 L314.22,1243.33 L315.70,1243.44 L317.18,1243.56 L318.66,1243.67 L320.14,1243.78 L321.62,1243.89 L323.10,1243.99 L324.59,1244.10 L326.07,1244.20 L327.55,1244.30 L329.03,1244.40 L330.51,1244.50 L331.99,1244.60 L333.47,1244.69 L334.96,1244.78 L336.44,1244.87 L337.92,1244.96 L339.40,1245.05 L340.88,1245.14 L342.36,1245.22 L343.85,1245.30 L345.33,1245.38 L346.81,1245.46 L348.29,1245.54 L349.78,1245.62 L351.26,1245.69 L352.74,1245.76 L354.22,1245.84 L355.71,1245.91 L357.19,1245.97 L358.67,1246.04 L360.16,1246.11 L361.64,1246.17 L363.12,1246.23 L364.61,1246.29 L366.09,1246.35 L367.57,1246.41 L369.06,1246.47 L370.54,1246.52 L372.02,1246.58 L373.51,1246.63 L374.99,1246.68 L376.47,1246.73 L377.96,1246.78 L379.44,1246.83 L380.93,1246.87 L382.41,1246.92 L383.89,1246.96 L385.38,1247.00 L386.86,1247.04 L388.35,1247.08 L389.83,1247.12 L391.32,1247.16 L392.80,1247.19 L394.29,1247.22 L395.77,1247.26 L397.25,1247.29 L398.74,1247.32 L400.22,1247.35 L401.71,1247.38 L403.19,1247.40 L404.68,1247.43 L406.16,1247.46 L407.65,1247.48 L409.13,1247.50 L410.62,1247.52 L412.10,1247.54 L413.59,1247.56 L415.07,1247.58 L416.56,1247.60 L418.04,1247.62 L419.53,1247.63 L421.01,1247.65 L422.50,1247.66 L423.99,1247.67 L425.47,1247.68 L426.96,1247.69 L428.44,1247.70 L429.93,1247.71 L431.41,1247.72 L432.90,1247.72 L434.38,1247.73 L435.87,1247.73 L437.36,1247.74 L438.84,1247.74 L440.33,1247.74 L441.81,1247.75 L443.30,1247.75 L444.78,1247.75 L446.27,1247.75 L447.76,1247.74 L449.24,1247.74 L450.73,1247.74 L452.21,1247.73 L453.70,1247.73 L455.19,1247.72 L456.67,1247.72 L458.16,1247.71 L459.64,1247.70 L461.13,1247.69 L462.62,1247.68 L464.10,1247.68 L465.59,1247.66 L467.07,1247.65 L468.56,1247.64 L470.05,1247.63 L471.53,1247.62 L473.02,1247.60 L474.51,1247.59 L475.99,1247.58 L477.48,1247.56 L478.96,1247.55 L480.45,1247.53 L481.94,1247.51 L483.42,1247.50 L484.91,1247.48 L486.39,1247.46 L487.88,1247.44 L489.37,1247.42 L490.85,1247.40 L492.34,1247.38 L493.82,1247.36 L495.31,1247.34 L496.80,1247.32 L498.28,1247.30 L499.77,1247.28 L501.25,1247.26 L502.74,1247.23 L504.23,1247.21 L505.71,1247.19 L507.20,1247.16 L508.68,1247.14 L510.17,1247.12 L511.66,1247.09 L513.14,1247.07 L514.63,1247.04 L516.11,1247.02 L517.60,1246.99 L519.09,1246.97 L520.57,1246.94 L522.06,1246.92 L523.54,1246.89 L525.03,1246.86 L526.51,1246.84 L528.00,1246.81 L529.49,1246.79 L530.97,1246.76 L532.46,1246.73 L533.94,1246.71 L535.43,1246.68 L536.91,1246.65 L538.40,1246.62 L539.88,1246.60 L541.37,1246.57 L542.86,1246.54 L544.34,1246.52 L545.83,1246.49 L547.31,1246.46 L548.80,1246.44 L550.28,1246.41 L551.77,1246.38 L553.25,1246.35 L554.74,1246.33 L556.22,1246.30 L557.71,1246.28 L559.19,1246.25 L560.68,1246.22 L562.16,1246.20 L563.65,1246.17 L565.13,1246.14 L566.61,1246.12 L568.10,1246.09 L569.58,1246.07 L571.07,1246.04 L572.55,1246.02 L574.04,1245.99 L575.52,1245.97 L577.01,1245.95 L578.49,1245.92 L579.97,1245.90 L581.46,1245.88 L582.94,1245.85 L584.43,1245.83 L585.91,1245.81 L587.39,1245.79 L588.88,1245.76 L590.36,1245.74 L591.84,1245.72 L593.33,1245.70 L594.81,1245.68 L596.29,1245.66 L597.78,1245.64 L599.26,1245.63 L600.74,1245.61 L602.23,1245.59 L603.71,1245.57 L605.19,1245.56" fill="none" stroke="#ff0000" stroke-width="2.3" stroke-linecap="round" stroke-linejoin="round"/>
<line x1="312.00" y1="707.20" x2="312.00" y2="727.40" stroke="#5a5a5a" stroke-width="1.20" stroke-linecap="butt"/>
<path d="M312.00,697.00 L309.10,707.70 L314.90,707.70 Z" fill="#000"/>
<line x1="293.20" y1="838.00" x2="293.20" y2="859.90" stroke="#5a5a5a" stroke-width="1.20" stroke-linecap="butt"/>
<path d="M293.20,827.80 L290.30,838.50 L296.10,838.50 Z" fill="#000"/>
<line x1="319.60" y1="967.70" x2="319.60" y2="991.00" stroke="#5a5a5a" stroke-width="1.20" stroke-linecap="butt"/>
<path d="M319.60,958.00 L316.70,968.20 L322.50,968.20 Z" fill="#000"/>
<line x1="341.20" y1="1135.30" x2="341.20" y2="1156.20" stroke="#5a5a5a" stroke-width="1.20" stroke-linecap="butt"/>
<path d="M341.20,1125.10 L338.30,1135.80 L344.10,1135.80 Z" fill="#000"/>
<line x1="406.50" y1="1257.30" x2="406.50" y2="1279.80" stroke="#5a5a5a" stroke-width="1.20" stroke-linecap="butt"/>
<path d="M406.50,1247.10 L403.60,1257.80 L409.40,1257.80 Z" fill="#000"/>
<line x1="156.30" y1="742.46" x2="606.40" y2="742.46" stroke="#000" stroke-width="3.00" stroke-linecap="butt"/>
<line x1="156.30" y1="878.32" x2="606.40" y2="878.32" stroke="#000" stroke-width="3.00" stroke-linecap="butt"/>
<line x1="156.30" y1="1014.18" x2="606.40" y2="1014.18" stroke="#000" stroke-width="3.00" stroke-linecap="butt"/>
<line x1="156.30" y1="1150.04" x2="606.40" y2="1150.04" stroke="#000" stroke-width="3.00" stroke-linecap="butt"/>
<rect x="156.30" y="606.60" width="450.10" height="679.30" fill="none" stroke="#000" stroke-width="3" stroke-linejoin="round"/>
<line x1="184.20" y1="1286.90" x2="184.20" y2="1295.90" stroke="#000" stroke-width="3.00" stroke-linecap="round"/>
<line x1="324.95" y1="1286.90" x2="324.95" y2="1295.90" stroke="#000" stroke-width="3.00" stroke-linecap="round"/>
<line x1="465.70" y1="1286.90" x2="465.70" y2="1295.90" stroke="#000" stroke-width="3.00" stroke-linecap="round"/>
<line x1="606.45" y1="1286.90" x2="606.45" y2="1295.90" stroke="#000" stroke-width="3.00" stroke-linecap="round"/>
<line x1="141.90" y1="666.80" x2="141.90" y2="763.70" stroke="#959595" stroke-width="1.50" stroke-linecap="butt"/>
<path d="M141.90,656.50 L138.95,667.30 L144.85,667.30 Z" fill="#000"/>
<line x1="131.60" y1="1125.90" x2="131.60" y2="1244.70" stroke="#606060" stroke-width="1.20" stroke-linecap="butt"/>
<path d="M131.60,1255.00 L128.85,1244.20 L134.35,1244.20 Z" fill="#000"/>
<g class="txt" font-weight="bold">
<text id="t_a_a" font-size="35.41" transform="translate(3.15,20.21) scale(0.9473,1)">a</text>
<text id="t_a_y0" font-size="21.00" transform="translate(56.52,48.24) scale(0.9869,1)">0.5</text>
<text id="t_a_y1" font-size="21.00" transform="translate(56.46,102.48) scale(0.9934,1)">0.0</text>
<text id="t_a_y2" font-size="21.00" transform="translate(50.10,156.21) scale(0.9739,1)">-0.5</text>
<text id="t_a_y3" font-size="21.00" transform="translate(50.11,210.41) scale(0.9796,1)">-<tspan class="one">1</tspan>.0</text><path class="onep" transform="translate(50.11,210.41) scale(0.9796,1) translate(6.993,0) scale(0.01025,-0.01025)" d="M478,0 L759,0 L759,1409 L493,1409 L140,1180 L140,959 L478,1170 Z"/>
<text id="t_a_y4" font-size="21.00" transform="translate(50.10,264.40) scale(0.9714,1)">-<tspan class="one">1</tspan>.5</text><path class="onep" transform="translate(50.10,264.40) scale(0.9714,1) translate(6.990,0) scale(0.01025,-0.01025)" d="M478,0 L759,0 L759,1409 L493,1409 L140,1180 L140,959 L478,1170 Z"/>
<text id="t_a_y5" font-size="21.00" transform="translate(50.11,317.94) scale(0.9796,1)">-2.0</text>
<text id="t_a_y6" font-size="21.00" transform="translate(50.10,372.19) scale(0.9739,1)">-2.5</text>
<text id="t_a_y7" font-size="21.00" transform="translate(50.11,425.93) scale(0.9796,1)">-3.0</text>
<text id="t_a_y8" font-size="21.00" transform="translate(50.10,480.16) scale(0.9739,1)">-3.5</text>
<text id="t_a_x0" font-size="20.50" transform="translate(128.77,507.74) scale(1.0876,1)">0</text>
<text id="t_a_x20" font-size="20.50" transform="translate(187.83,507.59) scale(1.0069,1)">20</text>
<text id="t_a_x40" font-size="20.50" transform="translate(252.63,507.39) scale(0.9855,1)">40</text>
<text id="t_a_x60" font-size="20.50" transform="translate(316.41,507.21) scale(1.0143,1)">60</text>
<text id="t_a_x80" font-size="20.50" transform="translate(380.96,507.13) scale(0.9971,1)">80</text>
<text id="t_a_x100" font-size="20.50" transform="translate(439.16,507.08) scale(1.0070,1)"><tspan class="one">1</tspan>00</text><path class="onep" transform="translate(439.16,507.08) scale(1.0070,1) translate(0.000,0) scale(0.01001,-0.01001)" d="M478,0 L759,0 L759,1409 L493,1409 L140,1180 L140,959 L478,1170 Z"/>
<text id="t_a_x120" font-size="20.50" transform="translate(503.46,507.06) scale(1.0061,1)"><tspan class="one">1</tspan>20</text><path class="onep" transform="translate(503.46,507.06) scale(1.0061,1) translate(0.000,0) scale(0.01001,-0.01001)" d="M478,0 L759,0 L759,1409 L493,1409 L140,1180 L140,959 L478,1170 Z"/>
<text id="t_a_x140" font-size="20.50" transform="translate(567.78,507.53) scale(1.0000,1)"><tspan class="one">1</tspan>40</text><path class="onep" transform="translate(567.78,507.53) scale(1.0000,1) translate(0.000,0) scale(0.01001,-0.01001)" d="M478,0 L759,0 L759,1409 L493,1409 L140,1180 L140,959 L478,1170 Z"/>
<text id="t_a_x160" font-size="20.50" transform="translate(632.10,507.08) scale(1.0012,1)"><tspan class="one">1</tspan>60</text><path class="onep" transform="translate(632.10,507.08) scale(1.0012,1) translate(0.000,0) scale(0.01001,-0.01001)" d="M478,0 L759,0 L759,1409 L493,1409 L140,1180 L140,959 L478,1170 Z"/>
<text id="t_a_title" font-size="21.00" transform="translate(375.66,118.18) scale(1.0564,1)">700 mgDextran:300 mgPVA</text>
<text id="t_a_val" font-size="20.50" transform="translate(445.51,372.80) scale(0.9924,1)"><tspan class="one">1</tspan>02.87</text><path class="onep" transform="translate(445.51,372.80) scale(0.9924,1) translate(0.000,0) scale(0.01001,-0.01001)" d="M478,0 L759,0 L759,1409 L493,1409 L140,1180 L140,959 L478,1170 Z"/>
<text id="t_a_exo" font-size="20.20" transform="translate(16.58,148.98) rotate(-90) scale(1.0084,1)">Exothermic</text>
<text id="t_a_heat" font-size="21.50" transform="translate(33.89,338.47) rotate(-90) scale(1.0258,1)">Heat Flow (W/g)</text>
<text id="t_a_endo" font-size="20.50" transform="translate(17.55,473.21) rotate(-90) scale(1.0003,1)">Endothermic</text>
<text id="t_b_b" font-size="33.50" transform="translate(107.45,602.49) scale(1.1050,1)">b</text>
<text id="t_b_v45_39" font-size="21.50" transform="translate(293.86,676.45) scale(1.0289,1)">45.39</text>
<text id="t_b_v39_07" font-size="21.50" transform="translate(289.76,812.15) scale(1.0256,1)">39.07</text>
<text id="t_b_v46_43" font-size="21.50" transform="translate(305.89,946.53) scale(1.0262,1)">46.43</text>
<text id="t_b_v56_02" font-size="21.50" transform="translate(335.75,1112.54) scale(1.0214,1)">56.02</text>
<text id="t_b_v79_33" font-size="21.50" transform="translate(369.30,1233.08) scale(1.0278,1)">79.33</text>
<text id="t_b_l_e_" font-size="20.50" transform="translate(571.18,666.96) scale(1.0992,1)">(e)</text>
<text id="t_b_l_d_" font-size="20.50" transform="translate(565.13,823.12) scale(1.0886,1)">(d)</text>
<text id="t_b_l_c_" font-size="20.50" transform="translate(563.66,944.21) scale(1.1255,1)">(c)</text>
<text id="t_b_l_b_" font-size="20.50" transform="translate(568.15,1067.21) scale(1.1188,1)">(b)</text>
<text id="t_b_l_a_" font-size="20.50" transform="translate(568.25,1180.21) scale(1.1169,1)">(a)</text>
<text id="t_b_x0" font-size="18.00" transform="translate(179.03,1317.80) scale(1.0603,1)">0</text>
<text id="t_b_x50" font-size="18.00" transform="translate(314.58,1317.30) scale(1.0304,1)">50</text>
<text id="t_b_x100" font-size="18.00" transform="translate(450.15,1317.81) scale(1.0243,1)"><tspan class="one">1</tspan>00</text><path class="onep" transform="translate(450.15,1317.81) scale(1.0243,1) translate(0.000,0) scale(0.00879,-0.00879)" d="M478,0 L759,0 L759,1409 L493,1409 L140,1180 L140,959 L478,1170 Z"/>
<text id="t_b_x150" font-size="18.00" transform="translate(590.89,1317.74) scale(1.0212,1)"><tspan class="one">1</tspan>50</text><path class="onep" transform="translate(590.89,1317.74) scale(1.0212,1) translate(0.000,0) scale(0.00879,-0.00879)" d="M478,0 L759,0 L759,1409 L493,1409 L140,1180 L140,959 L478,1170 Z"/>
<text id="t_b_exo" font-size="21.50" transform="translate(124.56,774.69) rotate(-90) scale(1.0246,1)">Exothermic</text>
<text id="t_b_heat" font-size="21.50" transform="translate(132.51,1026.82) rotate(-90) scale(1.0342,1)">Heat Flow (W/g)</text>
<text id="t_b_endo" font-size="21.50" transform="translate(115.25,1256.48) rotate(-90) scale(1.0316,1)">Endothermic</text>
<text id="t_a_temp" font-size="21.00" transform="translate(302.26,555.95) scale(1.0519,1)">Temperature (</text>
<text id="t_a_tsup" font-size="13.90" transform="translate(448.70,545.42) scale(0.6761,1)">0</text>
<text id="t_a_tc" font-size="21.00" transform="translate(454.95,555.78) scale(1.0584,1)">C)</text>
<text id="t_b_temp" font-size="21.00" transform="translate(272.20,1356.15) scale(1.0560,1)">Temperature (</text>
<text id="t_b_tsup" font-size="12.76" transform="translate(419.19,1345.25) scale(0.7435,1)">0</text>
<text id="t_b_tc" font-size="21.00" transform="translate(425.31,1355.83) scale(1.0943,1)">C)</text>
</g>
</svg>
</body></html>
